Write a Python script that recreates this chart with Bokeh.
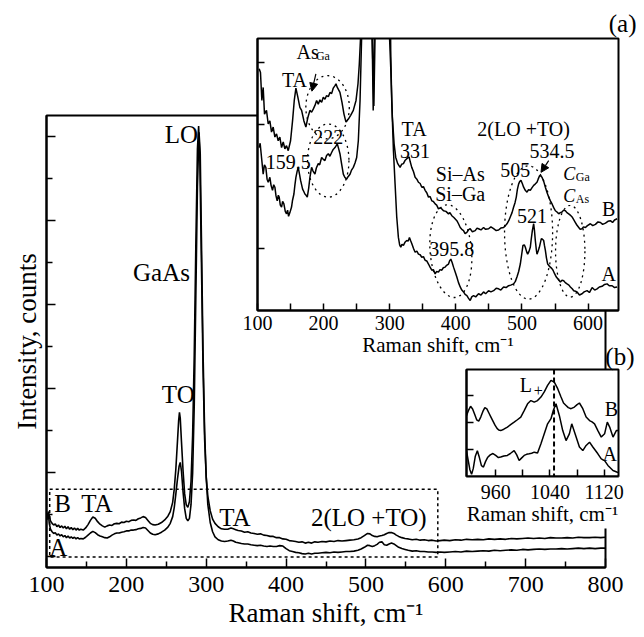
from bokeh.plotting import figure
from bokeh.models import Range1d, FixedTicker, Arrow, NormalHead, Span
from bokeh.core.properties import value
from bokeh.embed import file_html
from bokeh.resources import INLINE

FONT = "Liberation Serif"

# ---------------- main spectra (Raman shift, intensity in arb. units) ----------------
main_B = [(100.5,0.88),(101.5,1.02),(102.5,1.08),(103.5,0.98),(105,0.86),(107,0.80),(109,0.76),(111,0.79),(113,0.72),(115,0.76),(117,0.70),(119,0.74),(121,0.69),(123,0.73),(125,0.67),(127,0.72),(129,0.66),(131,0.70),(133,0.65),(135,0.69),(137,0.64),(139,0.68),(141,0.64),(143,0.66),(146,0.64),(149,0.69),(152,0.77),(155,0.87),(158,0.95),(161,0.92),(164,0.84),(167,0.78),(170,0.74),(173,0.71),(176,0.74),(179,0.76),(182,0.75),(185,0.79),(188,0.80),(191,0.79),(194,0.83),(197,0.82),(200,0.85),(203,0.84),(206,0.87),(209,0.88),(212,0.87),(215,0.91),(218,0.93),(221,0.96),(224,0.94),(227,0.87),(230,0.80),(233,0.77),(236,0.76),(240,0.78),(244,0.82),(248,0.88),(252,0.97),(255,1.08),(258,1.30),(260,1.62),(262,2.10),(264,2.75),(265.5,3.25),(266.5,3.44),(267.5,3.30),(269,2.75),(271,2.05),(273,1.50),(275,1.24),(277,1.18),(279,1.32),(281,1.80),(283,2.90),(285,4.80),(287,7.40),(289,9.70),(290.5,10.25),(292,9.50),(294,7.00),(296,4.50),(298,2.80),(300,1.90),(302,1.45),(305,1.10),(308,0.90),(311,0.80),(315,0.72),(319,0.67),(323,0.66),(327,0.66),(331,0.69),(334,0.67),(337,0.65),(340,0.63),(344,0.62),(348,0.59),(352,0.60),(356,0.57),(360,0.56),(364,0.54),(368,0.55),(372,0.52),(376,0.51),(380,0.49),(384,0.49),(388,0.46),(392,0.46),(396,0.43),(400,0.42),(404,0.39),(408,0.38),(412,0.37),(416,0.35),(420,0.36),(424,0.33),(428,0.35),(432,0.33),(436,0.36),(440,0.35),(445,0.37),(450,0.36),(455,0.38),(460,0.37),(465,0.39),(470,0.38),(475,0.39),(480,0.40),(485,0.41),(490,0.43),(494,0.46),(498,0.51),(502,0.56),(505,0.55),(508,0.51),(511,0.49),(514,0.48),(517,0.50),(520,0.51),(523,0.53),(526,0.56),(529,0.58),(532,0.58),(535,0.56),(538,0.52),(541,0.49),(545,0.46),(549,0.44),(553,0.43),(558,0.41),(563,0.42),(568,0.40),(573,0.41),(578,0.39),(583,0.40),(588,0.38),(593,0.39),(598,0.40),(605,0.39),(612,0.41),(619,0.40),(626,0.42),(633,0.41),(640,0.42),(647,0.41),(654,0.43),(661,0.42),(668,0.43),(675,0.42),(682,0.44),(689,0.43),(696,0.44),(703,0.45),(710,0.44),(717,0.45),(724,0.44),(731,0.46),(738,0.45),(745,0.45),(752,0.46),(759,0.45),(766,0.47),(773,0.46),(780,0.46),(787,0.47),(794,0.46),(800,0.47)]

main_A = [(100.5,0.92),(101.5,1.03),(102.5,0.98),(103.5,0.80),(105,0.66),(107,0.60),(109,0.56),(111,0.58),(113,0.52),(115,0.55),(117,0.50),(119,0.53),(121,0.48),(123,0.51),(125,0.46),(127,0.50),(129,0.45),(131,0.48),(133,0.44),(135,0.47),(137,0.43),(139,0.46),(141,0.43),(143,0.44),(146,0.43),(149,0.47),(152,0.52),(155,0.57),(158,0.61),(161,0.58),(164,0.53),(167,0.50),(170,0.48),(173,0.46),(176,0.45),(179,0.48),(182,0.52),(185,0.55),(188,0.57),(191,0.57),(194,0.59),(197,0.60),(200,0.62),(203,0.62),(206,0.64),(209,0.64),(212,0.65),(215,0.67),(218,0.68),(221,0.70),(224,0.69),(227,0.63),(230,0.57),(233,0.54),(236,0.53),(240,0.55),(244,0.59),(248,0.64),(252,0.71),(255,0.80),(258,0.96),(260,1.18),(262,1.50),(264,1.85),(266,2.15),(267.5,2.25),(269,2.05),(271,1.55),(273,1.15),(275,0.92),(277,0.86),(279,0.92),(281,1.25),(283,2.00),(285,3.60),(287,6.20),(289,8.80),(291,10.10),(292.5,9.60),(294,7.60),(296,4.90),(298,3.00),(300,1.90),(302,1.25),(305,0.82),(308,0.60),(311,0.48),(315,0.41),(319,0.38),(323,0.37),(327,0.38),(331,0.40),(334,0.38),(337,0.35),(340,0.34),(344,0.32),(348,0.31),(352,0.31),(356,0.29),(360,0.28),(364,0.27),(368,0.28),(372,0.26),(376,0.25),(380,0.26),(384,0.25),(388,0.25),(392,0.27),(396,0.26),(400,0.20),(404,0.15),(408,0.13),(412,0.11),(416,0.10),(420,0.08),(424,0.07),(428,0.09),(432,0.07),(436,0.09),(440,0.09),(445,0.10),(450,0.11),(455,0.10),(460,0.12),(465,0.11),(470,0.12),(475,0.13),(480,0.13),(485,0.14),(490,0.16),(494,0.19),(498,0.23),(502,0.28),(505,0.27),(508,0.25),(511,0.27),(514,0.30),(517,0.35),(520,0.36),(523,0.29),(526,0.28),(529,0.31),(532,0.33),(535,0.31),(538,0.27),(541,0.23),(545,0.20),(549,0.18),(553,0.16),(558,0.14),(563,0.15),(568,0.13),(573,0.13),(578,0.12),(583,0.12),(588,0.11),(593,0.12),(598,0.11),(605,0.12),(612,0.13),(619,0.12),(626,0.14),(633,0.13),(640,0.14),(647,0.15),(654,0.14),(661,0.16),(668,0.15),(675,0.16),(682,0.17),(689,0.16),(696,0.18),(703,0.17),(710,0.18),(717,0.19),(724,0.18),(731,0.19),(738,0.19),(745,0.20),(752,0.19),(759,0.20),(766,0.21),(773,0.20),(780,0.21),(787,0.20),(794,0.21),(800,0.21)]

main_xticks = [100, 200, 300, 400, 500, 600, 700, 800]
main_xminor = [150, 250, 350, 450, 550, 650, 750]
main_yticks = [0, 2, 4, 6, 8, 10]
main_yminor = [1, 3, 5, 7, 9]
main_box = dict(left=104, right=590, bottom=0.0, top=1.61)   # dotted zoom region

main_labels = ["LO", "GaAs", "TO", "B", "TA", "A", "TA", "2(LO +TO)"]
main_label_x = [269, 244, 265, 120, 163, 114.6, 335.8, 503.6]
main_label_y = [10.05, 6.77, 3.87, 1.27, 1.27, 0.23, 0.95, 0.95]

# ---------------- inset (a) ----------------
inset_a_B = [(102.5,3.90),(104.5,3.84),(106.6,3.39),(108.6,3.60),(110.6,3.17),(113.6,3.23),(116.2,3.01),(118.7,3.06),(121.2,2.88),(123.7,2.96),(126.3,2.80),(128.8,2.85),(131.3,2.74),(133.8,2.80),(136.4,2.63),(138.9,2.72),(141.4,2.61),(143.9,2.66),(146.5,2.58),(150.0,2.74),(153.0,3.06),(155.6,3.39),(158.1,3.59),(161.1,3.44),(164.1,3.28),(166.7,3.23),(170.2,3.06),(173.2,2.96),(176.3,3.12),(179.3,3.23),(181.8,3.20),(184.3,3.25),(186.9,3.31),(189.4,3.39),(191.9,3.33),(194.4,3.40),(197.0,3.36),(199.5,3.44),(202.0,3.41),(204.5,3.47),(207.1,3.45),(209.6,3.52),(212.1,3.50),(214.6,3.59),(217.2,3.63),(218.7,3.66),(220.7,3.60),(224.7,3.52),(227.8,3.36),(230.8,3.17),(233.8,3.04),(237.4,3.09),(240.9,3.15),(244.9,3.23),(249.0,3.39),(252.0,3.66),(254.0,3.98),(256.1,4.46),(259,6.5),(263,12.0),(266,20.0),(269,10.0),(272,5.5),(275,3.23),(278,5.5),(282,14.0),(287,40.0),(291,60.0),(295,20.0),(298,7.0),(299.5,4.46),(301.5,3.92),(304.0,3.12),(306.6,2.69),(309.1,2.47),(312.1,2.37),(315.7,2.31),(318,2.36),(320.7,2.37),(323,2.42),(325.8,2.45),(329.3,2.48),(331,2.40),(333.3,2.31),(336,2.24),(338.4,2.15),(341,2.12),(343.4,2.07),(346,2.05),(348.5,1.99),(351,2.00),(353.5,1.94),(356,1.90),(358.6,1.83),(361,1.84),(363.6,1.77),(366,1.76),(368.7,1.72),(371,1.70),(373.7,1.64),(377,1.66),(381.3,1.61),(385,1.60),(388.9,1.56),(391,1.58),(393.9,1.53),(397,1.50),(401.5,1.45),(404,1.40),(406.6,1.34),(409,1.31),(411.6,1.29),(414,1.24),(416.7,1.26),(419,1.30),(421.7,1.32),(425,1.27),(429.3,1.29),(432,1.33),(434.3,1.32),(438,1.30),(441.9,1.34),(445,1.31),(449.5,1.32),(453,1.35),(457.1,1.32),(461,1.29),(464.6,1.30),(468,1.33),(472.2,1.34),(475,1.37),(477.3,1.40),(480,1.45),(482.3,1.51),(485,1.58),(487.4,1.67),(489.5,1.74),(491.4,1.83),(493,1.95),(494.9,2.04),(496.5,2.08),(498.5,2.10),(500.5,2.05),(502.5,1.99),(505,1.94),(507.6,1.91),(510,1.95),(512.6,1.94),(515,1.98),(517.7,2.02),(520,2.04),(522.7,2.07),(524.5,2.12),(526.8,2.18),(528.5,2.17),(530.3,2.15),(533,2.08),(535.4,1.99),(538,1.90),(540.4,1.83),(543,1.77),(545.5,1.72),(548,1.66),(550.5,1.61),(553,1.59),(555.6,1.56),(558,1.58),(560.6,1.59),(563,1.62),(565.7,1.61),(568,1.58),(570.7,1.56),(573,1.54),(575.8,1.51),(578,1.47),(580.8,1.42),(583,1.38),(585.9,1.34),(588,1.31),(590.9,1.32),(593,1.35),(596.0,1.34),(599,1.37),(603.5,1.40),(607,1.37),(611.1,1.39),(615,1.43),(618.7,1.42),(622,1.39),(626.3,1.41),(630,1.44),(633.8,1.45),(637,1.42),(640,1.46),(643.9,1.48)]

inset_a_A = [(102.5,2.63),(104,2.70),(106.1,2.47),(108.6,2.20),(110.5,2.35),(112.6,2.31),(114.5,2.12),(116.2,2.07),(118.7,2.15),(120.5,2.02),(122.7,1.94),(124.5,2.03),(126.3,1.99),(128,1.85),(129.8,1.77),(131.5,1.86),(132.8,1.83),(134.5,1.70),(136.4,1.67),(138,1.76),(139.9,1.72),(142,1.60),(143.9,1.56),(145.5,1.62),(147.0,1.52),(149,1.58),(151.5,1.67),(153,1.78),(155.1,1.88),(156.5,2.02),(158.1,2.15),(160,2.25),(161.6,2.31),(163.5,2.20),(165.2,2.10),(168.2,1.96),(170,1.92),(171.7,1.88),(173.5,1.86),(175.3,1.83),(177.5,1.98),(179.3,2.15),(181.8,2.31),(184,2.25),(186.9,2.20),(189,2.30),(191.9,2.37),(194,2.35),(197.0,2.47),(199.5,2.44),(202.0,2.42),(204.5,2.50),(207.1,2.53),(209.5,2.49),(212.1,2.55),(214.5,2.60),(217.2,2.63),(219,2.66),(220.7,2.69),(222.5,2.62),(224.7,2.53),(227,2.38),(229.8,2.20),(232,2.15),(234.8,2.12),(237,2.16),(239.9,2.20),(242,2.26),(244.9,2.31),(247.5,2.38),(250.0,2.47),(252.5,2.74),(255.1,3.39),(257.6,4.46),(261,8.0),(264,14.0),(267,18.0),(270,8.5),(273,4.6),(276,3.30),(279,5.2),(283,12.0),(288,40.0),(292,55.0),(296,15.0),(299.5,6.5),(301.5,4.19),(303.0,3.39),(305.6,2.58),(308.1,2.04),(310.6,1.51),(313.1,1.18),(315,1.06),(316.7,1.02),(318.5,1.07),(320.7,1.05),(323,1.10),(325.8,1.13),(328,1.12),(329.8,1.18),(331.5,1.13),(333.3,1.08),(336,1.00),(338.4,0.94),(341,0.96),(343.4,0.91),(346,0.90),(348.5,0.86),(351,0.87),(353.5,0.81),(356,0.80),(358.6,0.75),(361,0.70),(363.6,0.65),(366,0.66),(368.7,0.59),(371,0.63),(373.7,0.62),(376,0.66),(378.8,0.65),(381,0.69),(383.8,0.70),(386,0.73),(388.9,0.75),(390.5,0.80),(392.4,0.83),(394.5,0.77),(396.5,0.70),(399,0.62),(401.5,0.54),(404,0.45),(406.6,0.38),(409,0.33),(411.6,0.30),(414,0.26),(416.7,0.24),(419,0.20),(421.7,0.16),(424,0.22),(426.8,0.24),(430,0.22),(434.3,0.27),(438,0.25),(441.9,0.30),(445,0.27),(449.5,0.32),(453,0.30),(457.1,0.32),(461,0.36),(464.6,0.35),(468,0.33),(472.2,0.38),(476,0.37),(479.8,0.40),(483,0.41),(487.4,0.43),(490,0.47),(492.4,0.54),(495,0.63),(497.5,0.75),(499.5,0.90),(501.5,1.05),(503.5,1.06),(505.1,1.02),(507,0.95),(508.6,0.91),(510.5,0.95),(512.6,1.02),(514,1.15),(515.7,1.29),(517.7,1.40),(519,1.28),(520.2,1.13),(521.5,1.00),(522.7,0.91),(524.5,0.96),(526.3,1.02),(528,1.10),(529.3,1.16),(531,1.15),(532.8,1.13),(534,1.05),(535.4,0.97),(537,0.85),(538.9,0.75),(541,0.72),(542.9,0.70),(545,0.68),(547.0,0.65),(549.5,0.59),(552.0,0.54),(555,0.50),(558.1,0.46),(560.5,0.49),(563.1,0.48),(565.5,0.45),(568.2,0.43),(571,0.41),(573.2,0.38),(576,0.35),(578.3,0.32),(581,0.31),(583.3,0.30),(587,0.25),(590.9,0.27),(594,0.30),(598.5,0.32),(602,0.29),(606.1,0.37),(610,0.33),(613.6,0.35),(617,0.38),(621.2,0.39),(625,0.42),(628.8,0.43),(632,0.40),(636.4,0.40),(640,0.37),(643.9,0.38)]

inset_a_xticks = [100, 200, 300, 400, 500, 600]
inset_a_xminor = [150, 250, 350, 450, 550, 650]
inset_a_yticks = [1, 2, 3, 4]

inset_a_text = ["TA", "222", "159.5", "TA", "331", "2(LO +TO)", "534.5", "505", "Si\u2013As", "Si\u2013Ga", "521", "395.8", "B", "A"]
inset_a_text_x = [156.0, 207.1, 146.5, 336.9, 338.4, 502.5, 545.5, 489.9, 406.6, 406.6, 515.2, 393.9, 631.3, 631.3]
inset_a_text_y = [3.72, 2.80, 2.39, 2.93, 2.58, 2.93, 2.58, 2.26, 2.20, 1.88, 1.53, 0.99, 1.64, 0.59]

big_sym = ["As", "C", "C"]
big_sym_x = [159.1, 562.5, 562.5]
big_sym_y = [4.17, 2.20, 1.85]
big_sym_style = ["normal", "italic", "italic"]
big_sym_size = ["20px", "18px", "18px"]
sub_sym = ["Ga", "Ga", "As"]
sub_sym_x = [188.3, 581.5, 581.5]
sub_sym_y = [4.11, 2.15, 1.80]

# dotted ellipses (centre x, centre y, width, height, angle)
ell_x = [206.0, 207.0, 392.4, 510.0, 573.0]
ell_y = [3.28, 2.42, 0.957, 1.26, 0.957]
ell_w = [65.7, 62.6, 62.6, 72.7, 44.4]
ell_h = [1.02, 1.18, 1.50, 2.15, 1.48]
ell_angle = [0.0, 0.0, 0.09, 0.0, 0.0]

# arrows: (x_start, y_start, x_end, y_end)
arrows_a = [(188.3, 3.82, 182.3, 3.54), (540.4, 2.42, 528.8, 2.23)]

# ---------------- inset (b) ----------------
inset_b_B = [(917,2.25),(920,2.45),(923,2.60),(926,2.50),(929,2.30),(932,2.10),(935,2.05),(938,2.20),(941,2.40),(944,2.55),(947,2.50),(950,2.35),(953,2.20),(956,2.05),(959,1.90),(962,1.78),(964.5,1.72),(967.4,1.70),(972,1.75),(977.3,1.83),(982,1.92),(987.2,2.01),(992,2.10),(997,2.20),(1002,2.44),(1007,2.69),(1011.9,2.81),(1016.8,2.75),(1021.7,2.81),(1026.7,2.94),(1031.6,3.13),(1036.5,3.37),(1041.5,3.56),(1046.4,3.49),(1051.4,3.25),(1056.3,2.94),(1060,2.72),(1063.7,2.63),(1067,2.55),(1071.1,2.51),(1076,2.57),(1080,2.66),(1083.4,2.72),(1088.4,2.51),(1093.3,2.20),(1098.3,2.07),(1102,2.02),(1105.7,1.95),(1110.6,1.70),(1115.6,1.46),(1120.5,1.58),(1124.5,2.01),(1128,1.83),(1132.9,1.46),(1137.8,1.70),(1141,1.70)]
inset_b_A = [(917,0.95),(919.5,0.60),(922,0.25),(924.5,0.08),(927,0.30),(930,0.75),(933,0.95),(936,0.70),(939,0.40),(942,0.35),(945,0.55),(948,0.70),(952,0.80),(956,0.85),(960,0.78),(964,0.70),(967.4,0.72),(972,0.76),(977.3,0.78),(982,0.86),(987.2,0.96),(991,0.80),(994.6,0.59),(998,0.68),(1002,0.78),(1005.5,0.82),(1009.4,0.84),(1013,0.86),(1016.8,0.90),(1021.7,0.87),(1026.7,1.21),(1031.6,1.58),(1036.5,1.95),(1041.5,2.14),(1045,2.45),(1048.9,2.69),(1053.8,2.26),(1058.8,1.70),(1063.7,1.33),(1068.6,1.58),(1072.1,1.95),(1077,1.58),(1083.4,1.09),(1088.4,0.96),(1093.3,1.15),(1098.3,1.27),(1103.2,1.09),(1110.6,0.84),(1115.6,0.65),(1120.5,0.59),(1125.4,0.41),(1132.9,0.22),(1139.3,0.16),(1141,0.15)]
inset_b_xticks = [960, 1040, 1120]
inset_b_xminor = [1000, 1080]
inset_b_yticks = [1, 2, 3]
l_plus_position = 1046
inset_b_text = ["L", "B", "A"]
inset_b_text_x = [1004.4, 1130.4, 1127.9]
inset_b_text_y = [3.37, 2.51, 0.84]
inset_b_sub = ["+"]
inset_b_sub_x = [1022.7]
inset_b_sub_y = [3.19]

XLABEL = "Raman shift, cm\u207b\u00b9"
W, H = 628, 621


def unzip(pairs):
    return [q[0] for q in pairs], [q[1] for q in pairs]


def style_axes(p, tick_font, title_font):
    for ax in p.axis:
        ax.axis_line_width = 2
        ax.axis_line_color = "black"
        ax.major_tick_out = 0
        ax.minor_tick_out = 0
        ax.major_tick_line_width = 1.5
        ax.minor_tick_line_width = 1.5
        ax.major_label_text_font = FONT
        ax.major_label_text_font_size = tick_font
        ax.major_label_text_color = "black"
        ax.axis_label_text_font = FONT
        ax.axis_label_text_font_size = title_font
        ax.axis_label_text_font_style = "normal"
        ax.axis_label_text_color = "black"
    p.xgrid.visible = False
    p.ygrid.visible = False
    p.outline_line_color = "black"
    p.outline_line_width = 2


def blank_labels(ax, ticks):
    ax.major_label_overrides = {t: "" for t in ticks}
    ax.major_label_standoff = 0


def panel_title(fig, text, offset, valign):
    t = fig.title
    t.text = text
    t.align = "right"
    t.vertical_align = valign
    t.text_font = FONT
    t.text_font_size = "25px"
    t.text_font_style = "normal"
    t.text_color = "black"
    t.offset = offset
    if "standoff" in t.properties():
        t.standoff = 0


# ---------------- main figure ----------------
p = figure(width=W, height=H, frame_width=559, frame_height=452,
           x_range=Range1d(100, 800), y_range=Range1d(-0.25, 10.5),
           min_border_left=37, min_border_right=32, min_border_top=107, min_border_bottom=62,
           output_backend="svg", toolbar_location=None)
style_axes(p, "24px", "27px")
p.xaxis.ticker = FixedTicker(ticks=main_xticks, minor_ticks=main_xminor)
p.xaxis.major_tick_in = 9
p.xaxis.minor_tick_in = 6
p.xaxis.major_label_standoff = 9
p.xaxis.axis_label = XLABEL
p.xaxis.axis_label_standoff = 3
p.yaxis.ticker = FixedTicker(ticks=main_yticks, minor_ticks=main_yminor)
p.yaxis.major_tick_in = 9
p.yaxis.minor_tick_in = 6
blank_labels(p.yaxis[0], main_yticks)
p.yaxis.axis_label = "Intensity, counts"
p.yaxis.axis_label_standoff = 5

xb, yb = unzip(main_B)
xa, ya = unzip(main_A)
p.line(xb, yb, line_color="black", line_width=1.6)
p.line(xa, ya, line_color="black", line_width=1.6)
p.quad(left=[main_box["left"]], right=[main_box["right"]], bottom=[main_box["bottom"]], top=[main_box["top"]],
       fill_color=None, line_color="black", line_dash="3 3", line_width=1.5)
p.text(x=main_label_x, y=main_label_y, text=main_labels, text_font=value(FONT), text_font_size="25px",
       text_align="center", text_baseline="middle", text_color="black")

# ---------------- inset (a) ----------------
pa = figure(width=W, height=H, frame_width=361, frame_height=272,
            x_range=Range1d(100, 646), y_range=Range1d(0, 4.39), title="(a)",
            min_border_left=249, min_border_right=18, min_border_top=30, min_border_bottom=319,
            output_backend="svg", toolbar_location=None)
style_axes(pa, "20px", "21px")
panel_title(pa, "(a)", -18, "top")
pa.border_fill_color = None
pa.background_fill_color = "white"
pa.xaxis.ticker = FixedTicker(ticks=inset_a_xticks, minor_ticks=inset_a_xminor)
pa.xaxis.major_tick_in = 7
pa.xaxis.minor_tick_in = 7
pa.xaxis.major_label_standoff = 5
pa.xaxis.axis_label = XLABEL
pa.xaxis.axis_label_standoff = 0
pa.yaxis.ticker = FixedTicker(ticks=inset_a_yticks)
pa.yaxis.major_tick_in = 7
pa.yaxis.minor_tick_in = 0
blank_labels(pa.yaxis[0], inset_a_yticks)

xb, yb = unzip(inset_a_B)
xa, ya = unzip(inset_a_A)
pa.line(xb, yb, line_color="black", line_width=1.5)
pa.line(xa, ya, line_color="black", line_width=1.5)
pa.ellipse(x=ell_x, y=ell_y, width=ell_w, height=ell_h, angle=ell_angle,
           fill_color=None, line_color="black", line_dash="dotted", line_width=1.3)
pa.text(x=inset_a_text_x, y=inset_a_text_y, text=inset_a_text, text_font=value(FONT), text_font_size="20px",
        text_align="center", text_baseline="middle", text_color="black")
pa.text(x=big_sym_x, y=big_sym_y, text=big_sym, text_font=value(FONT), text_font_size=big_sym_size,
        text_font_style=big_sym_style, text_align="left", text_baseline="middle", text_color="black")
pa.text(x=sub_sym_x, y=sub_sym_y, text=sub_sym, text_font=value(FONT), text_font_size="12px",
        text_align="left", text_baseline="middle", text_color="black")
for xs, ys, xe, ye in arrows_a:
    pa.add_layout(Arrow(end=NormalHead(size=8, fill_color="black", line_color="black"),
                        x_start=xs, y_start=ys, x_end=xe, y_end=ye, line_width=1.2, line_color="black"))

# ---------------- inset (b) ----------------
pb = figure(width=W, height=H, frame_width=152, frame_height=107,
            x_range=Range1d(917, 1141), y_range=Range1d(0, 3.96), title="(b)",
            min_border_left=458, min_border_right=18, min_border_top=361, min_border_bottom=153,
            output_backend="svg", toolbar_location=None)
style_axes(pb, "20px", "21px")
panel_title(pb, "(b)", -16, "bottom")
pb.border_fill_color = None
pb.background_fill_color = "white"
pb.xaxis.ticker = FixedTicker(ticks=inset_b_xticks, minor_ticks=inset_b_xminor)
pb.xaxis.major_tick_in = 7
pb.xaxis.minor_tick_in = 7
pb.xaxis.major_label_standoff = 8
pb.xaxis.axis_label = XLABEL
pb.xaxis.axis_label_standoff = 0
pb.yaxis.ticker = FixedTicker(ticks=inset_b_yticks)
pb.yaxis.major_tick_in = 7
pb.yaxis.minor_tick_in = 0
blank_labels(pb.yaxis[0], inset_b_yticks)
xax = pb.xaxis[0]
if "background_fill_color" in xax.properties():
    xax.background_fill_color = "white"

xb, yb = unzip(inset_b_B)
xa, ya = unzip(inset_b_A)
pb.line(xb, yb, line_color="black", line_width=1.5)
pb.line(xa, ya, line_color="black", line_width=1.5)
pb.add_layout(Span(location=l_plus_position, dimension="height", line_color="black", line_dash="5 3", line_width=2))
pb.text(x=inset_b_text_x, y=inset_b_text_y, text=inset_b_text, text_font=value(FONT), text_font_size="20px",
        text_align="center", text_baseline="middle", text_color="black")
pb.text(x=inset_b_sub_x, y=inset_b_sub_y, text=inset_b_sub, text_font=value(FONT), text_font_size="16px",
        text_align="center", text_baseline="middle", text_color="black")

# three independent roots, stacked on top of each other at the same page position
for fig in (p, pa, pb):
    fig.styles = {"position": "absolute", "left": "8px", "top": "8px"}

open("out.html", "w").write(file_html([p, pa, pb], INLINE))
